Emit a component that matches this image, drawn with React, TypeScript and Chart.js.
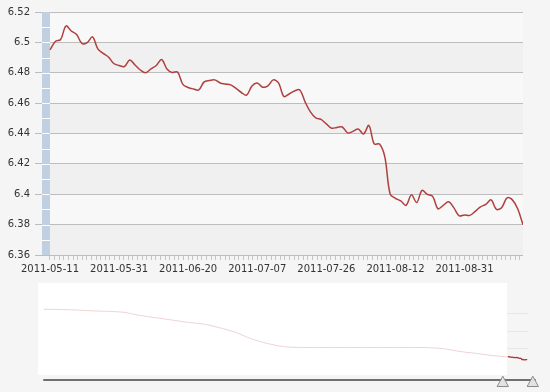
import React, { useEffect, useRef } from 'react';
import { Chart, registerables } from 'chart.js';

Chart.register(...registerables);

// ---- data ----
const dates = [
  '2011-05-11', '2011-05-12', '2011-05-13', '2011-05-16', '2011-05-17', '2011-05-18', '2011-05-19', '2011-05-20', '2011-05-23', '2011-05-24',
  '2011-05-25', '2011-05-26', '2011-05-27', '2011-05-31', '2011-06-01', '2011-06-02', '2011-06-03', '2011-06-07', '2011-06-08', '2011-06-09',
  '2011-06-10', '2011-06-13', '2011-06-14', '2011-06-15', '2011-06-16', '2011-06-17', '2011-06-20', '2011-06-21', '2011-06-22', '2011-06-23',
  '2011-06-24', '2011-06-27', '2011-06-28', '2011-06-29', '2011-06-30', '2011-07-01', '2011-07-04', '2011-07-05', '2011-07-06', '2011-07-07',
  '2011-07-08', '2011-07-11', '2011-07-12', '2011-07-13', '2011-07-14', '2011-07-15', '2011-07-18', '2011-07-19', '2011-07-20', '2011-07-21',
  '2011-07-22', '2011-07-25', '2011-07-26', '2011-07-27', '2011-07-28', '2011-07-29', '2011-08-01', '2011-08-02', '2011-08-03', '2011-08-04',
  '2011-08-05', '2011-08-08', '2011-08-09', '2011-08-10', '2011-08-11', '2011-08-12', '2011-08-15', '2011-08-16', '2011-08-17', '2011-08-18',
  '2011-08-19', '2011-08-22', '2011-08-23', '2011-08-24', '2011-08-25', '2011-08-26', '2011-08-29', '2011-08-30', '2011-08-31', '2011-09-01',
  '2011-09-02', '2011-09-05', '2011-09-06', '2011-09-07', '2011-09-08', '2011-09-09', '2011-09-13', '2011-09-14', '2011-09-15', '2011-09-16',
];

const rates = [
  6.4950, 6.5006, 6.5019, 6.5108, 6.5075, 6.5052, 6.4993, 6.4999, 6.5036, 6.4957,
  6.4927, 6.4904, 6.4861, 6.4848, 6.4841, 6.4884, 6.4851, 6.4818, 6.4800, 6.4825,
  6.4848, 6.4887, 6.4825, 6.4802, 6.4805, 6.4723, 6.4703, 6.4693, 6.4687, 6.4740,
  6.4749, 6.4753, 6.4733, 6.4726, 6.4720, 6.4697, 6.4670, 6.4653, 6.4713, 6.4733,
  6.4705, 6.4713, 6.4753, 6.4733, 6.4644, 6.4660, 6.4680, 6.4687, 6.4608, 6.4542,
  6.4503, 6.4493, 6.4463, 6.4435, 6.4440, 6.4443, 6.4404, 6.4414, 6.4430, 6.4397,
  6.4453, 6.4331, 6.4331, 6.4246, 6.4002, 6.3973, 6.3956, 6.3927, 6.3996, 6.3946,
  6.4025, 6.3999, 6.3986, 6.3904, 6.3927, 6.3950, 6.3910, 6.3858, 6.3864, 6.3861,
  6.3887, 6.3917, 6.3933, 6.3963, 6.3900, 6.3913, 6.3976, 6.3963, 6.3904, 6.3799,
];

const yTicks = [6.36, 6.38, 6.4, 6.42, 6.44, 6.46, 6.48, 6.5, 6.52];
const LABEL_EVERY = 13; // points between date labels
const MINOR_PER_LABEL = 15; // minor tick marks per label interval

// navigator history (trading-day offsets before the shown window)
const navHistoryDays = [
  -2175, -2100, -2025, -1950, -1875, -1800, -1725, -1650, -1575, -1500,
  -1425, -1350, -1275, -1200, -1125, -1050, -975, -900, -825, -750,
  -675, -600, -525, -450, -375, -300, -225, -150, -75, 0,
];
const navHistoryRates = [
  8.277, 8.270, 8.250, 8.220, 8.200, 8.165, 8.050, 7.960, 7.877, 7.790,
  7.720, 7.585, 7.410, 7.166, 6.994, 6.880, 6.850, 6.850, 6.850, 6.850,
  6.850, 6.850, 6.850, 6.848, 6.844, 6.800, 6.698, 6.627, 6.549, 6.495,
];
const navGridValues = [8.15, 7.47, 6.82];

const FONT = 'DejaVu Sans';

export default function App() {
  const mainRef = useRef<HTMLCanvasElement | null>(null);
  const navRef = useRef<HTMLCanvasElement | null>(null);

  useEffect(() => {
    if (!mainRef.current || !navRef.current) return;

    const bandPlugin = {
      id: 'bands',
      beforeDraw(chart: any) {
        const { ctx, chartArea } = chart;
        const y = chart.scales.y;
        ctx.save();
        ctx.fillStyle = '#f8f8f8';
        ctx.fillRect(chartArea.left, chartArea.top, chartArea.right - chartArea.left, chartArea.bottom - chartArea.top);
        ctx.fillStyle = '#f0f0f0';
        for (let i = 0; i < yTicks.length - 1; i += 2) {
          const y1 = y.getPixelForValue(yTicks[i]);
          const y2 = y.getPixelForValue(yTicks[i + 1]);
          ctx.fillRect(chartArea.left, y2, chartArea.right - chartArea.left, y1 - y2);
        }
        ctx.restore();
      },
      beforeDatasetsDraw(chart: any) {
        const { ctx, chartArea } = chart;
        const x = chart.scales.x;
        const y = chart.scales.y;
        const x0 = chartArea.left;
        const x1 = x.getPixelForValue(0);
        ctx.save();
        ctx.fillStyle = '#c1d0e0';
        ctx.fillRect(x0, chartArea.top, x1 - x0, chartArea.bottom - chartArea.top);
        ctx.strokeStyle = '#ffffff';
        ctx.lineWidth = 1;
        const marks: number[] = [];
        for (let i = 0; i < yTicks.length; i++) {
          marks.push(yTicks[i]);
          if (i < yTicks.length - 1) marks.push((yTicks[i] + yTicks[i + 1]) / 2);
        }
        marks.forEach((v) => {
          const py = Math.round(y.getPixelForValue(v)) + 0.5;
          if (py <= chartArea.top + 1 || py >= chartArea.bottom - 1) return;
          ctx.beginPath();
          ctx.moveTo(x0, py);
          ctx.lineTo(x1, py);
          ctx.stroke();
        });
        ctx.restore();
      },
    };

    const main = new Chart(mainRef.current, {
      type: 'line',
      data: {
        datasets: [
          {
            data: rates.map((v, i) => ({ x: i, y: v })),
            borderColor: '#b0403f',
            borderWidth: 1.5,
            pointRadius: 0,
            tension: 0.35,
            fill: false,
          },
        ],
      },
      options: {
        animation: false,
        responsive: false,
        devicePixelRatio: 1,
        layout: { padding: { left: 0, right: 27, top: 12, bottom: 0 } },
        plugins: { legend: { display: false }, tooltip: { enabled: false } },
        scales: {
          x: {
            type: 'linear',
            min: -1.505,
            max: dates.length - 1,
            border: { display: false },
            grid: { drawOnChartArea: false, drawTicks: true, tickLength: 5, color: '#c6c6c6' },
            afterBuildTicks: (scale: any) => {
              const t: any[] = [];
              for (let k = 0; (k * LABEL_EVERY) / MINOR_PER_LABEL <= dates.length - 1; k++) {
                t.push({ value: (k * LABEL_EVERY) / MINOR_PER_LABEL });
              }
              scale.ticks = t;
            },
            afterFit: (scale: any) => {
              scale.height = 25;
            },
            ticks: {
              autoSkip: false,
              maxRotation: 0,
              padding: 3,
              color: '#333333',
              font: { family: FONT, size: 10 },
              callback: (value: any, index: number) =>
                index % MINOR_PER_LABEL === 0 ? dates[Math.round(Number(value))] : '',
            },
          },
          y: {
            type: 'linear',
            min: 6.36,
            max: 6.52,
            border: { display: false },
            grid: { color: '#bdbdbd', lineWidth: 1, tickLength: 7 },
            afterBuildTicks: (scale: any) => {
              scale.ticks = yTicks.map((v) => ({ value: v }));
            },
            afterFit: (scale: any) => {
              scale.width = 42;
            },
            ticks: {
              padding: 5,
              color: '#333333',
              font: { family: FONT, size: 10 },
              callback: (value: any) => String(Number(Number(value).toFixed(2))),
            },
          },
        },
      },
      plugins: [bandPlugin],
    } as any);

    const navPlugin = {
      id: 'navdeco',
      beforeDraw(chart: any) {
        const { ctx, chartArea } = chart;
        const x = chart.scales.x;
        const y = chart.scales.y;
        const edge = Math.round(x.getPixelForValue(0)) - 1;
        ctx.save();
        ctx.fillStyle = '#ffffff';
        ctx.fillRect(chartArea.left, chartArea.top, edge - chartArea.left, chartArea.bottom - chartArea.top);
        ctx.strokeStyle = '#e6e6e6';
        ctx.lineWidth = 1;
        navGridValues.forEach((v) => {
          const py = Math.round(y.getPixelForValue(v)) + 0.5;
          ctx.beginPath();
          ctx.moveTo(edge, py);
          ctx.lineTo(chartArea.right, py);
          ctx.stroke();
        });
        ctx.restore();
      },
      afterDraw(chart: any) {
        const { ctx, chartArea } = chart;
        const x = chart.scales.x;
        const lineY = chartArea.bottom + 5;
        ctx.save();
        ctx.strokeStyle = '#6f6f6f';
        ctx.lineWidth = 2;
        ctx.lineCap = 'round';
        ctx.beginPath();
        ctx.moveTo(chartArea.left + 6, lineY);
        ctx.lineTo(chartArea.right + 7, lineY);
        ctx.stroke();
        const handles = [x.getPixelForValue(0) - 5, x.getPixelForValue(dates.length - 1) + 6];
        handles.forEach((cx) => {
          ctx.beginPath();
          ctx.moveTo(cx, chartArea.bottom + 1.5);
          ctx.lineTo(cx + 5.5, chartArea.bottom + 11.5);
          ctx.lineTo(cx - 5.5, chartArea.bottom + 11.5);
          ctx.closePath();
          ctx.fillStyle = '#e2e2e2';
          ctx.fill();
          ctx.strokeStyle = '#8a8a8a';
          ctx.lineWidth = 1;
          ctx.lineJoin = 'round';
          ctx.stroke();
        });
        ctx.restore();
      },
    };

    const nav = new Chart(navRef.current, {
      type: 'line',
      data: {
        datasets: [
          {
            data: navHistoryDays.map((d, j) => ({ x: d, y: navHistoryRates[j] })),
            borderColor: '#efd4d4',
            borderWidth: 1,
            pointRadius: 0,
            tension: 0.3,
            fill: false,
          },
          {
            data: rates.map((v, i) => ({ x: i, y: v })),
            borderColor: '#a83a3a',
            borderWidth: 1.3,
            pointRadius: 0,
            tension: 0.3,
            fill: false,
          },
        ],
      },
      options: {
        animation: false,
        responsive: false,
        devicePixelRatio: 1,
        layout: { padding: { left: 38, right: 22, top: 3, bottom: 17 } },
        plugins: { legend: { display: false }, tooltip: { enabled: false } },
        scales: {
          x: { type: 'linear', display: false, min: -2201.6, max: 93.7 },
          y: { type: 'linear', display: false, min: 5.819, max: 9.261 },
        },
      },
      plugins: [navPlugin],
    } as any);

    return () => {
      main.destroy();
      nav.destroy();
    };
  }, []);

  return (
    <div style={{ position: 'fixed', left: 0, top: 0, width: 550, height: 392, background: '#f5f5f5', overflow: 'hidden' }}>
      <canvas ref={mainRef} width={550} height={280} style={{ position: 'absolute', left: 0, top: 0, width: 550, height: 280 }} />
      <canvas ref={navRef} width={550} height={112} style={{ position: 'absolute', left: 0, top: 280, width: 550, height: 112 }} />
    </div>
  );
}
